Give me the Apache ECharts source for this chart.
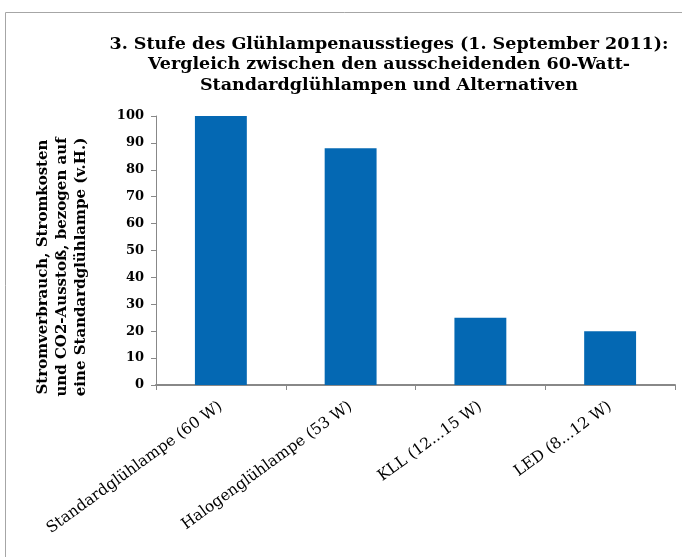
<!DOCTYPE html>
<html>
<head>
<meta charset="utf-8">
<script src="https://cdn.jsdelivr.net/npm/echarts@6/dist/echarts.min.js"></script>
<style>
  html, body { margin: 0; padding: 0; background: #fff; }
  #board { width: 682px; height: 557px; }
</style>
</head>
<body>
<div id="board"></div>
<script>
// Daten
const categories = ["Standardglühlampe (60 W)", "Halogenglühlampe (53 W)", "KLL (12...15 W)", "LED (8...12 W)"];
const values = [100, 88, 25, 20];
const yTicks = [0, 10, 20, 30, 40, 50, 60, 70, 80, 90, 100];

const titleText = "3. Stufe des Glühlampenausstieges (1. September 2011):\nVergleich zwischen den ausscheidenden 60-Watt-\nStandardglühlampen und Alternativen";
const yName = "Stromverbrauch, Stromkosten\nund CO2-Ausstoß, bezogen auf\neine Standardglühlampe (v.H.)";

const serif = "'DejaVu Serif', 'Liberation Serif', serif";

const myChart = echarts.init(document.getElementById("board"));
myChart.setOption({
  animation: false,
  title: {
    text: titleText,
    left: 384,
    top: 29,
    textAlign: "center",
    textStyle: {
      fontFamily: serif,
      fontWeight: "bold",
      fontSize: 17.5,
      lineHeight: 20.5,
      color: "#000"
    }
  },
  graphic: [
    {
      type: "rect",
      shape: { x: 5.5, y: 12.5, width: 720, height: 600 },
      style: { fill: "none", stroke: "#a6a6a6", lineWidth: 1 },
      silent: true
    },
    {
      type: "text",
      x: 62,
      y: 267,
      rotation: Math.PI / 2,
      style: {
        text: yName,
        font: "bold 15px " + serif,
        lineHeight: 19,
        textAlign: "center",
        textVerticalAlign: "middle",
        fill: "#000"
      }
    }
  ],
  // Plotbereich fest, Beschriftungen dürfen hinausragen
  grid: { left: 156, top: 116, right: 7, bottom: 172, containLabel: false, outerBoundsMode: "none" },
  xAxis: {
    type: "category",
    data: categories,
    axisLine: { lineStyle: { color: "#888", width: 2 } },
    axisTick: { show: true, length: 5, lineStyle: { color: "#888" } },
    axisLabel: {
      rotate: 36,
      interval: 0,
      margin: 20,
      fontFamily: serif,
      fontSize: 15.5,
      color: "#000"
    }
  },
  yAxis: {
    type: "value",
    min: yTicks[0],
    max: yTicks[yTicks.length - 1],
    interval: 10,
    splitLine: { show: false },
    axisLine: { show: true, lineStyle: { color: "#888", width: 1 } },
    axisTick: { show: true, length: 5, lineStyle: { color: "#888" } },
    axisLabel: {
      margin: 12,
      fontFamily: serif,
      fontWeight: "bold",
      fontSize: 13,
      color: "#000"
    }
  },
  series: [
    {
      type: "bar",
      data: values,
      barWidth: "40%",
      itemStyle: { color: "#0468b3" }
    }
  ]
});
</script>
</body>
</html>
